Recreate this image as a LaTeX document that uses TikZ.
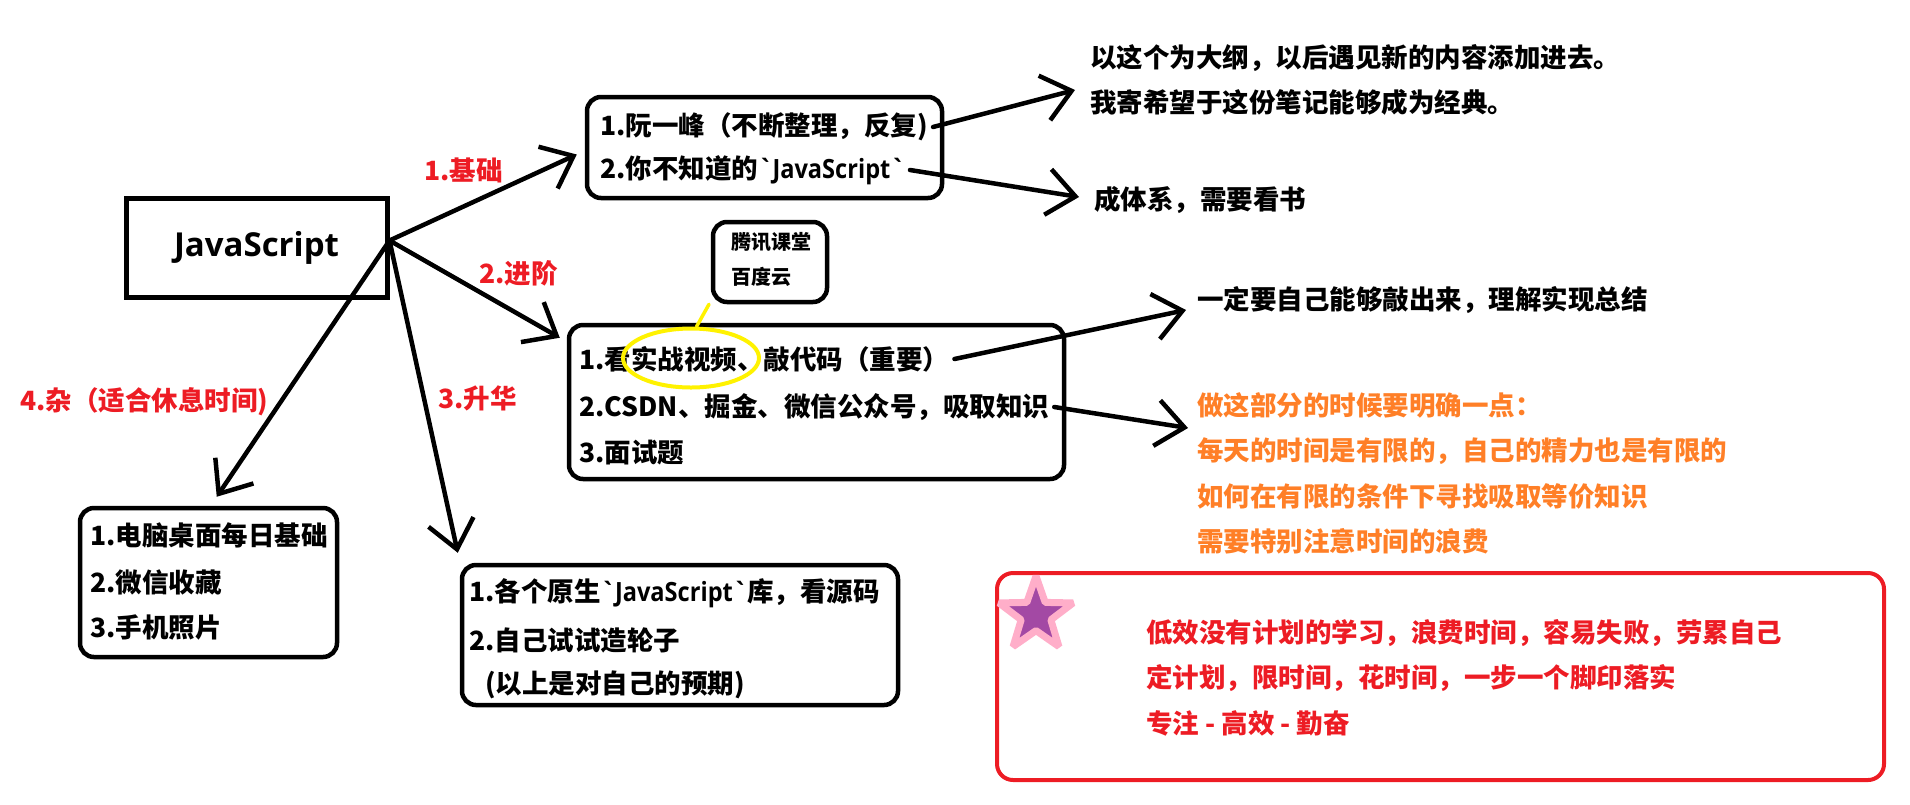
\documentclass[tikz,border=0pt]{standalone}
\usepackage{fontspec}
\newfontfamily\zhfont{Noto Sans CJK SC}
\newfontfamily\latfont{Open Sans}
\newfontfamily\latnarrow{Open Sans}[FakeStretch=0.89]
\newcommand\jsname{{\latnarrow`JavaScript`}}
\usetikzlibrary{arrows.meta,shapes.geometric}
\definecolor{pred}{HTML}{ED1C24}
\definecolor{porange}{HTML}{FF7F27}
\definecolor{pyellow}{HTML}{FFF200}
\definecolor{ppurple}{HTML}{A349A4}
\definecolor{ppink}{HTML}{FFAEC9}

\begin{document}
\begin{tikzpicture}[x=1pt,y=-1pt,line width=4.5pt,line cap=round,
  >={Straight Barb[length=28pt,width=46pt]},
  txt/.style={anchor=west,inner sep=0pt,align=left,
    font=\zhfont\bfseries\fontsize{26.5}{45.5}\selectfont},
  lbl/.style={txt,text=pred},
  small/.style={txt,font=\zhfont\bfseries\fontsize{20}{35}\selectfont},
  box/.style={draw,rounded corners=14pt,inner sep=0pt},
  arr/.style={->,line width=4.5pt}]
\useasboundingbox (0,0) rectangle (1910,804);
% ================= central topic =================
\node[draw,line width=5pt,minimum width=261pt,minimum height=99pt,inner sep=0pt,
  font=\latfont\bfseries\fontsize{33}{40}\selectfont] (js) at (256.5,247.5) {JavaScript};
\coordinate (hub) at ([yshift=7pt]js.east);
% ================= 1. basics =================
\node[box,minimum width=355pt,minimum height=101pt] (b1) at (764.5,147.5) {};
\node[txt] (b1a) at (598,127) {1.阮一峰（不断整理，反复)};
\node[txt] (b1b) at (598,170) {2.你不知道的\jsname};
\node[lbl] (l1) at (422,170) {1.基础};
\draw[arr] (hub) -- ([xshift=-8pt,yshift=-7pt]b1.west);
% notes on the right
\node[txt] (n1) at (1088,80) {以这个为大纲，以后遇见新的内容添加进去。\\我寄希望于这份笔记能够成为经典。};
\node[txt] (n2) at (1092,200) {成体系，需要看书};
\draw[arr] ([xshift=3pt]b1a.east) -- ([xshift=-13pt,yshift=-10pt]n1.west);
\draw[arr] ([xshift=3pt]b1b.east) -- ([xshift=-13pt,yshift=3pt]n2.west);
% ================= 2. advanced =================
\node[box,minimum width=495pt,minimum height=154pt] (b2) at (816.5,402) {};
\node[txt] (b2a) at (577,359) {1.看实战视频、敲代码（重要）};
\node[txt] (b2b) at (577,407) {2.CSDN、掘金、微信公众号，吸取知识};
\node[txt] (b2c) at (577,453) {3.面试题};
\node[lbl] (l2) at (477,273) {2.进阶};
\draw[arr] (hub) -- ([xshift=-7pt,yshift=-15pt]b2.north west);
% video sites, yellow marker
\node[box,minimum width=114pt,minimum height=80pt] (tx) at (770,262) {};
\node[small] (txl) at (729,259.5) {腾讯课堂\\百度云};
\node[draw=pyellow,ellipse,line width=4pt,minimum width=136pt,minimum height=59pt,
  inner sep=0pt] (hl) at (691,358) {};
\draw[pyellow,line width=3.5pt] ([xshift=-61pt]tx.south) -- (hl.80);
% notes on the right
\node[txt] (n3) at (1195,300) {一定要自己能够敲出来，理解实现总结};
\node[txt,text=porange] (n4) at (1195,473.5) {做这部分的时候要明确一点：\\每天的时间是有限的，自己的精力也是有限的\\如何在有限的条件下寻找吸取等价知识\\需要特别注意时间的浪费};
\draw[arr] ([xshift=3pt]b2a.east) -- ([xshift=-9pt,yshift=-10pt]n3.west);
\draw[arr] ([xshift=3pt]b2b.east) -- ([xshift=-7pt,yshift=45.5pt]n4.west);
% ================= 3. going further =================
\node[box,minimum width=436pt,minimum height=140pt] (b3) at (680,635) {};
\node[txt] (b3a) at (467,593) {1.各个原生\jsname 库，看源码};
\node[txt] (b3b) at (467,640) {2.自己试试造轮子};
\node[txt] (b3c) at (483,685) {(以上是对自己的预期)};
\node[lbl] (l3) at (436,398) {3.升华};
\draw[arr] (hub) -- ([xshift=-2pt,yshift=10pt]b3.north west);
% ================= 4. misc =================
\node[box,minimum width=257pt,minimum height=149pt] (b4) at (208.5,582.5) {};
\node[txt] (b4a) at (88,535) {1.电脑桌面每日基础};
\node[txt] (b4b) at (88,582) {2.微信收藏};
\node[txt] (b4c) at (88,627) {3.手机照片};
\node[lbl] (l4) at (18,402) {4.杂（适合休息时间)};
\draw[arr] (hub) -- ([xshift=139pt,yshift=9pt]b4.north west);
% ================= summary =================
\node[box,draw=pred,line width=4pt,rounded corners=16pt,minimum width=887pt,
  minimum height=207pt] (sum) at (1440.5,676.5) {};
\node[star,star points=5,star point ratio=2.5,minimum size=78pt,inner sep=0pt,
  draw=ppink,fill=ppurple,line width=7pt,line join=bevel] (st) at (1036,615) {};
\node[lbl] (sumt) at (1144,677.5) {低效没有计划的学习，浪费时间，容易失败，劳累自己\\定计划，限时间，花时间，一步一个脚印落实\\专注 - 高效 - 勤奋};
\end{tikzpicture}
\end{document}
